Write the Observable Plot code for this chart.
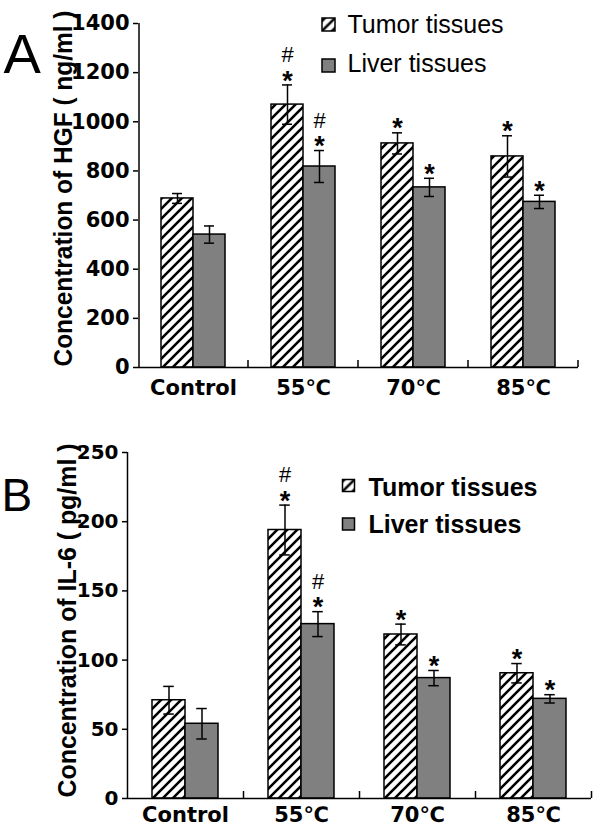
<!DOCTYPE html>
<html><head><meta charset="utf-8">
<script src="https://cdn.jsdelivr.net/npm/d3@7"></script>
<script src="https://cdn.jsdelivr.net/npm/@observablehq/plot@0.6"></script>
<style>
body{margin:0;background:#fff;}
#chart{width:600px;}
#chart svg{display:block;}
</style></head><body>
<svg width="0" height="0" style="position:absolute;left:0;top:0">
<defs><pattern id="hatch" patternUnits="userSpaceOnUse" width="10" height="10">
<rect width="10" height="10" fill="white"/>
<path d="M-5,5 L5,-5 M0,10 L10,0 M5,15 L15,5" stroke="black" stroke-width="2.6"/>
</pattern></defs></svg>
<div id="chart"></div>
<script>
// ---- data ----
const categories = ["Control", "55\u2103", "70\u2103", "85\u2103"];
const series = ["Tumor tissues", "Liver tissues"];
const hgfTumor = [688, 1070, 912, 859];
const hgfTumorErr = [20, 80, 43, 84];
const hgfLiver = [541, 818, 733, 674];
const hgfLiverErr = [35, 65, 37, 27];
const il6Tumor = [71, 194, 118.5, 90.5];
const il6TumorErr = [10, 18, 7.5, 7];
const il6Liver = [54, 126, 87, 72];
const il6LiverErr = [11, 9, 5.5, 3];
const tumorSig = ["", "#*", "*", "*"];
const liverSig = ["", "#*", "*", "*"];
const hgfTicks = [0, 200, 400, 600, 800, 1000, 1200, 1400];
const il6Ticks = [0, 50, 100, 150, 200, 250];

function panel(o) {
  const rows = [];
  categories.forEach((c, i) => {
    rows.push({cat: c, series: series[0], value: o.tumor[i], err: o.tumorErr[i], sig: tumorSig[i]});
    rows.push({cat: c, series: series[1], value: o.liver[i], err: o.liverErr[i], sig: liverSig[i]});
  });
  const fw = (o.width - o.ml - o.mr) / categories.length;
  const step = fw / (2 + 2 * o.po);
  const edge = (o.po + 0.5) * step;
  const ph = o.height - o.mt - o.mb;
  const tickVal = o.ymax * 7 / ph;
  const first = () => categories[0];
  const capInset = (step - 11) / 2;
  const tumorRows = rows.filter(d => d.series === series[0]);
  const liverRows = rows.filter(d => d.series === series[1]);
  const L = o.legend;
  const plot = Plot.plot({
    width: o.width, height: o.height,
    marginLeft: o.ml, marginRight: o.mr, marginTop: o.mt, marginBottom: o.mb,
    style: {fontFamily: "DejaVu Sans", background: "white", color: "black"},
    fx: {domain: categories, padding: 0, label: null},
    x: {domain: series, paddingInner: 0, paddingOuter: o.po, axis: null},
    y: {domain: [0, o.ymax], label: null},
    marks: [
      Plot.barY(tumorRows, {fx: "cat", x: "series", y: "value", fill: "url(#hatch)", stroke: "black", strokeWidth: 1.5}),
      Plot.barY(liverRows, {fx: "cat", x: "series", y: "value", fill: "#808080", stroke: "black", strokeWidth: 1.5}),
      Plot.ruleX(rows, {fx: "cat", x: "series", y1: d => d.value - d.err, y2: d => d.value + d.err, stroke: "black", strokeWidth: 1.5}),
      Plot.tickY(rows, {fx: "cat", x: "series", y: d => d.value + d.err, insetLeft: capInset, insetRight: capInset, stroke: "black", strokeWidth: 1.5}),
      Plot.tickY(rows, {fx: "cat", x: "series", y: d => d.value - d.err, insetLeft: capInset, insetRight: capInset, stroke: "black", strokeWidth: 1.5}),
      Plot.ruleY([0], {stroke: "black", strokeWidth: 1.5}),
      Plot.ruleX([series[0]], {fx: first, x: d => d, dx: -edge, y1: 0, y2: o.ymax, stroke: "black", strokeWidth: 1.5}),
      Plot.ruleX([series[1]], {x: d => d, dx: edge, y1: 0, y2: tickVal, stroke: "black", strokeWidth: 1.5}),
      Plot.axisY({ticks: o.ticks, tickSize: 5, tickPadding: o.tickPad, fontSize: o.tickFont, fontWeight: "bold", label: null, tickFormat: d => String(d), strokeWidth: 1.5}),
      Plot.axisFx({anchor: "bottom", tickSize: 0, tickPadding: o.fxPad, fontSize: 21, fontWeight: "bold", label: null}),
      Plot.text(rows.filter(d => d.sig.includes("*")), {fx: "cat", x: "series", y: d => d.value + d.err, text: () => "*", fontFamily: "Liberation Sans", fontWeight: "bold", fontSize: 27, lineAnchor: "middle", dy: -4}),
      Plot.text(rows.filter(d => d.sig.includes("#")), {fx: "cat", x: "series", y: d => d.value + d.err, text: () => "#", fontFamily: "Liberation Sans", fontSize: 22, lineAnchor: "middle", dy: -30}),
      Plot.text([o.title], {fx: first, text: d => d, frameAnchor: "left", textAnchor: "middle", rotate: -90, dx: o.titleDx, dy: o.titleDy, fontFamily: "Liberation Sans", fontWeight: "bold", fontSize: 25, lineAnchor: "middle"}),
      Plot.text([o.letter], {fx: first, text: d => d, frameAnchor: "top-left", textAnchor: "start", lineAnchor: "bottom", dx: o.letterDx, dy: o.letterDy, fontFamily: "Liberation Sans", fontSize: o.letterSize}),
      Plot.dot([series[0]], {fx: first, frameAnchor: "top-left", dx: L.sqDx, dy: L.sq1Dy, symbol: "square", r: L.side / Math.sqrt(Math.PI), fill: "url(#hatch)", stroke: "black", strokeWidth: 1.5}),
      Plot.dot([series[1]], {fx: first, frameAnchor: "top-left", dx: L.sqDx, dy: L.sq2Dy, symbol: "square", r: L.side / Math.sqrt(Math.PI), fill: "#808080", stroke: "black", strokeWidth: 1.5}),
      Plot.text([series[0]], {fx: first, text: d => d, frameAnchor: "top-left", textAnchor: "start", lineAnchor: "bottom", dx: L.txDx, dy: L.tx1Dy, fontFamily: "Liberation Sans", fontWeight: L.weight, fontSize: 25}),
      Plot.text([series[1]], {fx: first, text: d => d, frameAnchor: "top-left", textAnchor: "start", lineAnchor: "bottom", dx: L.txDx, dy: L.tx2Dy, fontFamily: "Liberation Sans", fontWeight: L.weight, fontSize: 25})
    ]
  });
  plot.querySelectorAll("text").forEach(t => {
    if (t.textContent.trim() === o.title) {
      t.setAttribute("textLength", o.titleLen);
      t.setAttribute("lengthAdjust", "spacingAndGlyphs");
    }
  });
  return plot;
}

const chart = document.getElementById("chart");
chart.appendChild(panel({
  width: 600, height: 410, ml: 138, mr: 22, mt: 23, mb: 43, po: 0.667,
  ymax: 1400, ticks: hgfTicks, tickFont: 21, tickPad: 4, fxPad: 13,
  tumor: hgfTumor, tumorErr: hgfTumorErr, liver: hgfLiver, liverErr: hgfLiverErr,
  title: "Concentration of HGF ( ng/ml )", titleDx: -75, titleDy: -7, titleLen: 356,
  letter: "A", letterDx: -135, letterDy: 49, letterSize: 56,
  legend: {side: 13, sqDx: 190, sq1Dy: 1, sq2Dy: 42, txDx: 209, tx1Dy: 9, tx2Dy: 48, weight: "normal"}
}));
chart.appendChild(panel({
  width: 600, height: 426, ml: 126, mr: 8, mt: 42, mb: 38, po: 0.74,
  ymax: 250, ticks: il6Ticks, tickFont: 20, tickPad: 4, fxPad: 9,
  tumor: il6Tumor, tumorErr: il6TumorErr, liver: il6Liver, liverErr: il6LiverErr,
  title: "Concentration of IL-6 ( pg/ml )", titleDx: -60, titleDy: -5, titleLen: 354,
  letter: "B", letterDx: -126, letterDy: 58, letterSize: 46,
  legend: {side: 12, sqDx: 221, sq1Dy: 33, sq2Dy: 71.5, txDx: 241, tx1Dy: 43, tx2Dy: 80, weight: "bold"}
}));
</script>
</body></html>
